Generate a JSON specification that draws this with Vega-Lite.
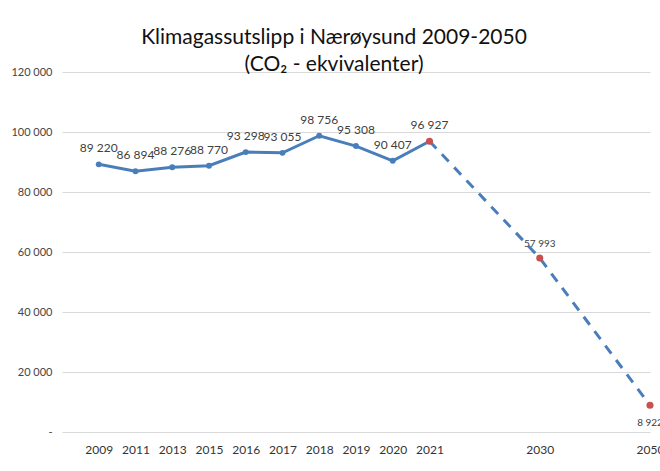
{
  "$schema": "https://vega.github.io/schema/vega-lite/v6.json",
  "autosize": "none",
  "width": 588,
  "height": 360,
  "padding": {"left": 62, "top": 72, "right": 10, "bottom": 39},
  "background": "white",
  "config": {
    "view": {"stroke": null},
    "font": "Lato",
    "locale": {"number": {"decimal": ",", "thousands": " ", "grouping": [3], "currency": ["", " kr"]}}
  },
  "title": {
    "text": ["Klimagassutslipp  i Nærøysund 2009-2050", "(CO₂ - ekvivalenter)"],
    "font": "Lato",
    "fontSize": 21,
    "fontWeight": "normal",
    "color": "#111111",
    "lineHeight": 27,
    "anchor": "middle",
    "frame": "group",
    "dx": -22,
    "offset": -9
  },
  "data": {
    "values": [
      {"year": "2009", "value": 89220},
      {"year": "2011", "value": 86894},
      {"year": "2013", "value": 88276},
      {"year": "2015", "value": 88770},
      {"year": "2016", "value": 93298},
      {"year": "2017", "value": 93055},
      {"year": "2018", "value": 98756},
      {"year": "2019", "value": 95308},
      {"year": "2020", "value": 90407},
      {"year": "2021", "value": 96927},
      {"year": "2030", "value": 57993},
      {"year": "2050", "value": 8922}
    ]
  },
  "encoding": {
    "x": {
      "field": "year",
      "type": "ordinal",
      "sort": null,
      "scale": {
        "type": "point",
        "padding": 0,
        "domain": [" ", "2009", "2011", "2013", "2015", "2016", "2017", "2018", "2019", "2020", "2021", "  ", "   ", "2030", "    ", "     ", "2050"]
      },
      "axis": {
        "title": null,
        "labelAngle": 0,
        "ticks": false,
        "domain": false,
        "grid": false,
        "labelFont": "Lato",
        "labelFontSize": 12,
        "labelColor": "#333333",
        "labelPadding": 12
      }
    },
    "y": {
      "field": "value",
      "type": "quantitative",
      "scale": {"domain": [0, 120000], "nice": false},
      "axis": {
        "title": null,
        "values": [0, 20000, 40000, 60000, 80000, 100000, 120000],
        "labelExpr": "datum.value == 0 ? '-' : format(datum.value, ',')",
        "ticks": false,
        "domain": false,
        "gridColor": "#d9d9d9",
        "gridWidth": 1.2,
        "labelFont": "Lato",
        "labelFontSize": 11,
        "labelColor": "#444444",
        "labelPadding": 10
      }
    }
  },
  "layer": [
    {
      "transform": [{"filter": "toNumber(datum.year) <= 2021"}],
      "mark": {"type": "line", "color": "#4a7ebb", "strokeWidth": 3}
    },
    {
      "transform": [{"filter": "toNumber(datum.year) >= 2021"}],
      "mark": {"type": "line", "color": "#4a7ebb", "strokeWidth": 3, "strokeDash": [10, 8]}
    },
    {
      "transform": [{"filter": "toNumber(datum.year) < 2021"}],
      "mark": {"type": "circle", "color": "#4a7ebb", "size": 35, "opacity": 1}
    },
    {
      "transform": [{"filter": "toNumber(datum.year) >= 2021"}],
      "mark": {"type": "circle", "color": "#c8504d", "size": 50, "opacity": 1}
    },
    {
      "transform": [{"filter": "toNumber(datum.year) <= 2021"}],
      "mark": {"type": "text", "baseline": "alphabetic", "dy": -12, "fontSize": 12, "color": "#404040", "font": "Lato"},
      "encoding": {"text": {"field": "value", "type": "quantitative", "format": ","}}
    },
    {
      "transform": [{"filter": "datum.year == '2030'"}],
      "mark": {"type": "text", "baseline": "alphabetic", "dy": -11, "fontSize": 10, "color": "#404040", "font": "Lato"},
      "encoding": {"text": {"field": "value", "type": "quantitative", "format": ","}}
    },
    {
      "transform": [{"filter": "datum.year == '2050'"}],
      "mark": {"type": "text", "baseline": "alphabetic", "dy": 21, "dx": 0, "fontSize": 10, "color": "#404040", "font": "Lato"},
      "encoding": {"text": {"field": "value", "type": "quantitative", "format": ","}}
    }
  ]
}
